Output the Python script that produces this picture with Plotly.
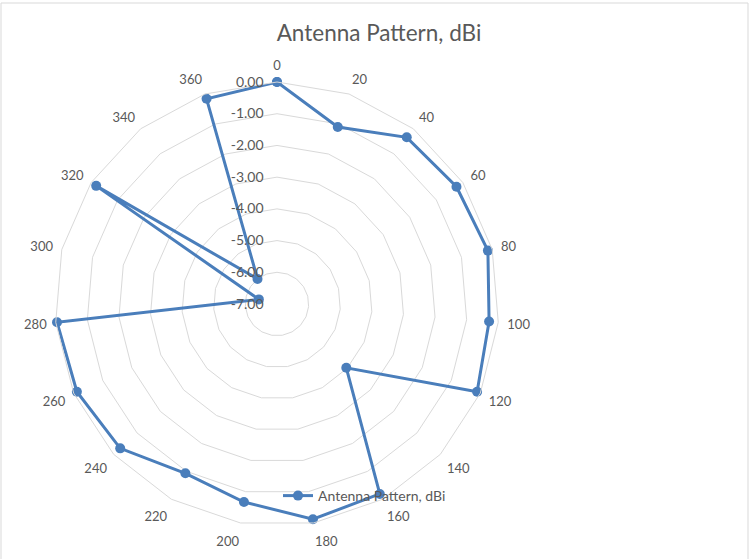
import plotly.graph_objects as go

categories = ["0", "20", "40", "60", "80", "100", "120", "140", "160", "180",
              "200", "220", "240", "260", "280", "300", "320", "340", "360"]
gain_dbi = [0.00, -1.10, -0.34, -0.24, -0.14, -0.29, -0.11, -4.03, -0.19, -0.12,
            -0.67, -0.93, -0.28, -0.11, -0.04, -6.41, -0.19, -6.00, -0.16]
radial_ticks = [0, -1, -2, -3, -4, -5, -6, -7]
r_min, r_max = -7, 0
series_name = "Antenna Pattern, dBi"

W, H = 749, 559
cx, cy, R = 277, 304, 222
FONT = "Lato"
GRAY = "#595959"
BLUE = "#4A7EBB"

# radial scale measured from the axis minimum (centre of the radar)
r_plot = [v - r_min for v in gain_dbi]

fig = go.Figure()
fig.add_trace(go.Scatterpolar(
    theta=categories + categories[:1],
    r=r_plot + r_plot[:1],
    customdata=gain_dbi + gain_dbi[:1],
    hovertemplate="%{theta}: %{customdata:.2f}<extra></extra>",
    mode="lines+markers",
    name=series_name,
    line=dict(color=BLUE, width=3),
    marker=dict(color=BLUE, size=10, symbol="circle"),
    cliponaxis=False,
    showlegend=True,
))

fig.update_layout(
    width=W, height=H,
    margin=dict(l=0, r=0, t=0, b=0),
    paper_bgcolor="white",
    plot_bgcolor="white",
    font=dict(family=FONT, color=GRAY, size=12),
    title=dict(text=series_name, x=379 / W, xanchor="center", y=1 - 33 / H, yanchor="middle",
               font=dict(family=FONT, size=22.5, color=GRAY)),
    polar=dict(
        domain=dict(x=[(cx - R) / W, (cx + R) / W], y=[1 - (cy + R) / H, 1 - (cy - R) / H]),
        gridshape="linear",
        bgcolor="white",
        angularaxis=dict(
            type="category", categoryarray=categories, categoryorder="array",
            direction="clockwise", rotation=90,
            showgrid=False, showline=True, linecolor="#D9D9D9", linewidth=1,
            ticks="outside", ticklen=6, tickcolor="rgba(0,0,0,0)",
            tickfont=dict(family=FONT, size=13, color=GRAY),
        ),
        radialaxis=dict(
            range=[0, r_max - r_min],
            tickvals=[t - r_min for t in radial_ticks],
            ticktext=[f"{t:.2f}".replace("\u2212", "-") for t in radial_ticks],
            angle=90, tickangle=90, side="counterclockwise",
            showline=False, ticks="outside", ticklen=8, tickcolor="rgba(0,0,0,0)",
            gridcolor="#D9D9D9", gridwidth=1,
            tickfont=dict(family=FONT, size=14, color=GRAY),
        ),
    ),
    legend=dict(orientation="h", x=278 / W, y=1 - 496 / H, xanchor="left", yanchor="middle",
                bgcolor="rgba(0,0,0,0)", font=dict(family=FONT, size=14, color=GRAY)),
    shapes=[dict(type="rect", xref="paper", yref="paper", x0=1 / W, x1=748 / W,
                 y0=-0.01, y1=1 - 3 / H, line=dict(color="#D9D9D9", width=1))],
)

fig.write_html("out.html", config={"displayModeBar": False},
               post_script="document.body.style.margin='0';")
